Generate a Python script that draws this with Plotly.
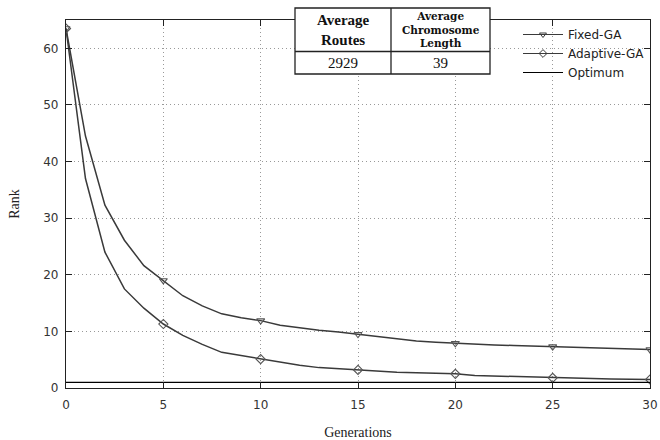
import plotly.graph_objects as go

generations = list(range(0, 31))
fixed_ga = [63.5, 44.5, 32.3, 26.1, 21.6, 19.0, 16.3, 14.5, 13.1, 12.4, 11.9,
            11.1, 10.6, 10.2, 9.9, 9.5, 9.1, 8.6, 8.3, 8.1, 7.9,
            7.8, 7.6, 7.5, 7.4, 7.3, 7.2, 7.1, 7.0, 6.9, 6.8]
adaptive_ga = [63.5, 37.0, 24.0, 17.5, 14.1, 11.3, 9.3, 7.7, 6.3, 5.7, 5.1,
               4.5, 4.0, 3.6, 3.4, 3.2, 2.9, 2.8, 2.7, 2.6, 2.5,
               2.2, 2.1, 2.0, 1.9, 1.8, 1.7, 1.65, 1.6, 1.55, 1.5]
optimum = [1] * 31
marker_every = 5

table_headers = ["Average<br>Routes", "Average<br>Chromosome<br>Length"]
table_values = ["2929", "39"]

W, H = 660, 440
L, R, T, B = 66, 10, 20, 52
PW, PH = W - L - R, H - T - B


def px(x):
    return (x - L) / PW


def py(y):
    return (H - B - y) / PH


LINE = "#3a3a3a"
fig = go.Figure()

series = [("Fixed-GA", fixed_ga, "triangle-down-open"),
          ("Adaptive-GA", adaptive_ga, "diamond-open")]
for name, vals, sym in series:
    fig.add_trace(go.Scatter(x=generations, y=vals, mode="lines", showlegend=False,
                             line=dict(color=LINE, width=1.5)))
    mx = [g for g in generations if g % marker_every == 0]
    my = [v for g, v in zip(generations, vals) if g % marker_every == 0]
    fig.add_trace(go.Scatter(x=mx, y=my, mode="markers", showlegend=False,
                             marker=dict(symbol=sym, size=7, color="#555",
                                         line=dict(width=1.1, color="#555"))))
fig.add_trace(go.Scatter(x=generations, y=optimum, mode="lines", showlegend=False,
                         line=dict(color="black", width=1.2)))

# legend entries
for name, vals, sym in series:
    fig.add_trace(go.Scatter(x=[None], y=[None], mode="lines+markers", name=name,
                             line=dict(color=LINE, width=1.2),
                             marker=dict(symbol=sym, size=6, color=LINE,
                                         line=dict(width=1, color=LINE))))
fig.add_trace(go.Scatter(x=[None], y=[None], mode="lines", name="Optimum",
                         line=dict(color="black", width=1.2)))

axis_common = dict(showline=True, linecolor="#222", linewidth=1.3, mirror="ticks",
                   ticks="inside", ticklen=6, tickcolor="#222", tickwidth=1.3,
                   showgrid=True, gridcolor="#999999", griddash="1px,3px", gridwidth=1,
                   zeroline=False, automargin=False,
                   tickfont=dict(family="DejaVu Sans", size=12, color="#333"))

fig.update_layout(
    width=W, height=H,
    margin=dict(l=L, r=R, t=T, b=B),
    plot_bgcolor="white", paper_bgcolor="white",
    xaxis=dict(range=[0, 30], dtick=5, ticklabelstandoff=5,
               title=dict(text="Generations", standoff=20,
                          font=dict(family="Liberation Serif", size=14, color="#222")),
               **axis_common),
    yaxis=dict(range=[0, 65], dtick=10, ticklabelstandoff=4,
               title=dict(text="Rank", standoff=20,
                          font=dict(family="Liberation Serif", size=14, color="#222")),
               **axis_common),
    legend=dict(x=1, y=1, xanchor="right", yanchor="top", bgcolor="rgba(0,0,0,0)",
                font=dict(family="DejaVu Sans", size=12, color="#222"),
                tracegroupgap=0, itemwidth=40),
)

# table drawn with shapes + annotations
tl, tm, tr = 295, 391, 490
tt, tmid, tb = 8, 51.5, 74
shape_style = dict(xref="paper", yref="paper", line=dict(color="#222", width=1.3))
fig.add_shape(type="rect", x0=px(tl), x1=px(tr), y0=py(tb), y1=py(tt),
              fillcolor="white", layer="above", **shape_style)
fig.add_shape(type="line", x0=px(tl), x1=px(tr), y0=py(tmid), y1=py(tmid), **shape_style)
fig.add_shape(type="line", x0=px(tm), x1=px(tm), y0=py(tb), y1=py(tt), **shape_style)

cells = [
    ((tl + tm) / 2, (tt + tmid) / 2, "<b>" + table_headers[0] + "</b>", 15, "Liberation Serif"),
    ((tm + tr) / 2, (tt + tmid) / 2, "<b>" + table_headers[1] + "</b>", 10.5, "DejaVu Serif"),
    ((tl + tm) / 2, (tmid + tb) / 2, table_values[0], 15, "Liberation Serif"),
    ((tm + tr) / 2, (tmid + tb) / 2, table_values[1], 15, "Liberation Serif"),
]
for cx, cy, txt, fs, fam in cells:
    fig.add_annotation(x=px(cx), y=py(cy), xref="paper", yref="paper",
                       xanchor="center", yanchor="middle",
                       text=txt, showarrow=False,
                       font=dict(family=fam, size=fs, color="#111"))

fig.write_html("out.html", config={"displayModeBar": False},
               post_script="document.body.style.margin='0';")
